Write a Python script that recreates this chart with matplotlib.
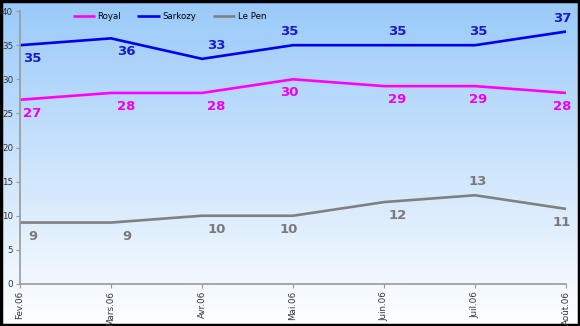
import numpy as np
import matplotlib.pyplot as plt

months = ["Fev.06", "Mars.06", "Avr.06", "Mai.06", "Juin.06", "Juil.06", "Août.06"]
royal = [27, 28, 28, 30, 29, 29, 28]
sarkozy = [35, 36, 33, 35, 35, 35, 37]
lepen = [9, 9, 10, 10, 12, 13, 11]

# label placement: horizontal nudge per month, and above/below per point
x_nudge = [12, 15, 14, -4, 13, 3, -4]
sarkozy_side = [-1, -1, 1, 1, 1, 1, 1]
royal_side = [-1] * 7
lepen_side = [-1, -1, -1, -1, -1, 1, -1]

fig = plt.figure(figsize=(5.8, 3.26), dpi=100)

# gradient background
bg = fig.add_axes([0, 0, 1, 1], zorder=-1)
grad = np.linspace(0, 1, 256)[:, None]
top = np.array([0.60, 0.79, 0.98])
bot = np.array([1.0, 1.0, 1.0])
img = top[None, None, :] * (1 - grad[:, :, None]) + bot[None, None, :] * grad[:, :, None]
bg.imshow(img, aspect="auto", extent=[0, 1, 0, 1])
bg.set_xlim(0, 1)
bg.set_ylim(0, 1)
bg.axis("off")
bg.add_patch(plt.Rectangle((0.002, 0.003), 0.996, 0.994, fill=False,
                           edgecolor="black", linewidth=2.5, transform=bg.transAxes))

ax = fig.add_axes([0.0345, 0.129, 0.9415, 0.837])
ax.patch.set_alpha(0)
x = np.arange(len(months))

series = [
    ("Royal", royal, "#ff00ff", "#ee00ee", royal_side),
    ("Sarkozy", sarkozy, "#0000ee", "#1a1acc", sarkozy_side),
    ("Le Pen", lepen, "#808080", "#7a7a7a", lepen_side),
]
for name, vals, col, tcol, side in series:
    ax.plot(x, vals, color=col, linewidth=1.9, label=name, solid_capstyle="butt")
    for i, v in enumerate(vals):
        dy = 13 if side[i] > 0 else -13
        ax.annotate(str(v), (x[i], v), xytext=(x_nudge[i] * 0.75, dy * 0.75),
                    textcoords="offset points", ha="center", va="center",
                    fontsize=9.5, fontweight="bold", color=tcol)

ax.set_xlim(0, len(months) - 1)
ax.set_ylim(0, 40)
ax.set_yticks(range(0, 41, 5))
ax.set_xticks(x)
ax.set_xticklabels(months, rotation=90, fontsize=6.3)
ax.tick_params(axis="y", labelsize=6.3, length=3, color="#999999", pad=2, labelcolor="#333333")
ax.tick_params(axis="x", length=3, color="#999999", pad=2, labelcolor="#333333")
for s in ["top", "right"]:
    ax.spines[s].set_visible(False)
for s in ["left", "bottom"]:
    ax.spines[s].set_color("#999999")
    ax.spines[s].set_linewidth(1.2)

ax.legend(loc="upper left", bbox_to_anchor=(0.082, 1.025), ncol=3, frameon=False,
          fontsize=6.2, handlelength=2.6, handletextpad=0.3, columnspacing=1.9)

fig.savefig("out.png", dpi=100)
